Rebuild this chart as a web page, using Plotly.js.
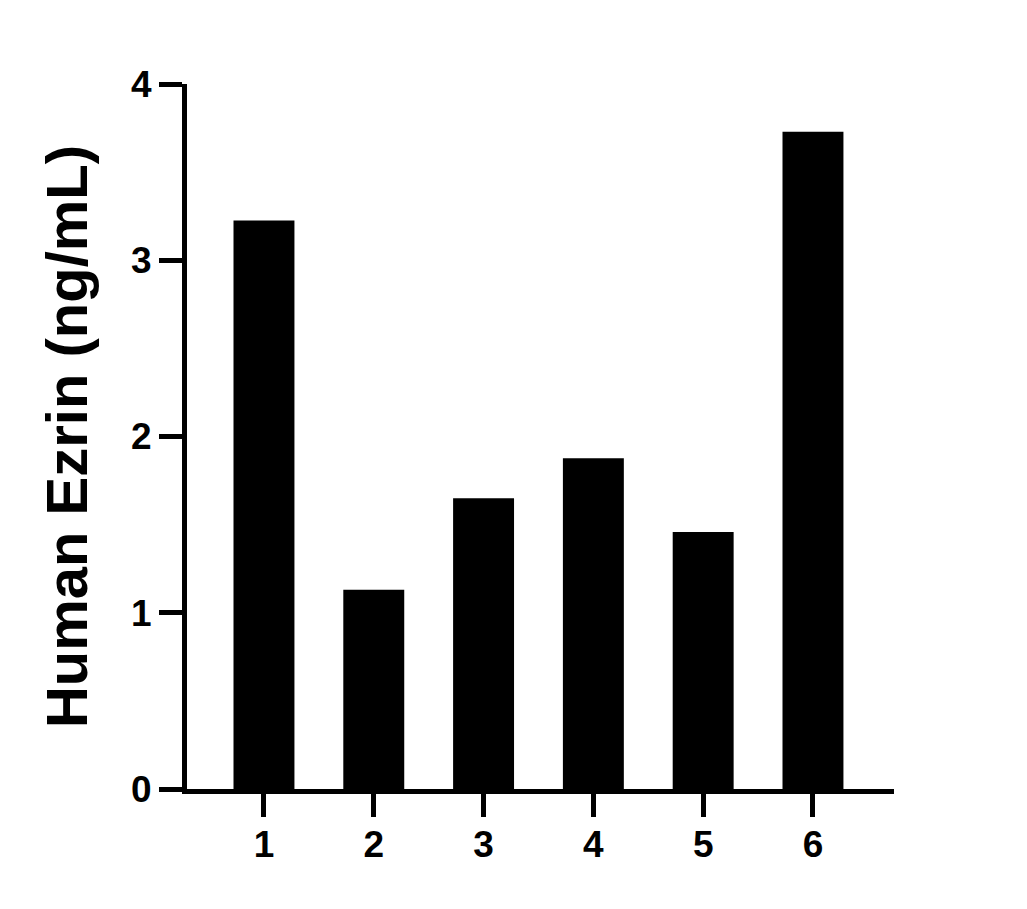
<!DOCTYPE html>
<html>
<head>
<meta charset="utf-8">
<script src="https://cdn.plot.ly/plotly-3.0.1.min.js"></script>
<style>
  html, body { margin: 0; padding: 0; background: #fff; }
  #chart { width: 1027px; height: 909px; }
</style>
</head>
<body>
<div id="chart"></div>
<script>
// sample numbers on the x axis
const samples = [1, 2, 3, 4, 5, 6];
// ezrin concentration, ng/mL
const ezrin = [3.226, 1.130, 1.650, 1.876, 1.458, 3.729];
const yTicks = [0, 1, 2, 3, 4];

const labelFont = { family: 'Arial, "Liberation Sans", sans-serif', size: 37, color: '#000', weight: 'bold' };

const data = [{
    type: 'bar',
    x: samples,
    y: ezrin,
    width: 0.555,
    marker: { color: '#000', line: { width: 0 } },
    hoverinfo: 'x+y'
}];

const layout = {
    width: 1027,
    height: 909,
    margin: { l: 187, r: 133, t: 84, b: 120 },
    paper_bgcolor: '#fff',
    plot_bgcolor: '#fff',
    showlegend: false,
    xaxis: {
        range: [0.299, 6.738],
        tickvals: samples,
        ticktext: samples.map(String),
        showgrid: false,
        zeroline: false,
        showline: true,
        linecolor: '#000',
        linewidth: 5,
        ticks: 'outside',
        ticklen: 23,
        tickwidth: 5,
        tickcolor: '#000',
        tickfont: labelFont,
        ticklabelstandoff: -4
    },
    yaxis: {
        range: [0, 4],
        tickvals: yTicks,
        showgrid: false,
        zeroline: false,
        showline: true,
        linecolor: '#000',
        linewidth: 5,
        ticks: 'outside',
        ticklen: 23,
        tickwidth: 5,
        tickcolor: '#000',
        tickfont: labelFont,
        title: {
            text: 'Human Ezrin (ng/mL)',
            font: { family: 'Arial, "Liberation Sans", sans-serif', size: 58, color: '#000', weight: 'bold' },
            standoff: 26
        }
    }
};

Plotly.newPlot('chart', data, layout, { displayModeBar: false, responsive: false });
</script>
</body>
</html>
